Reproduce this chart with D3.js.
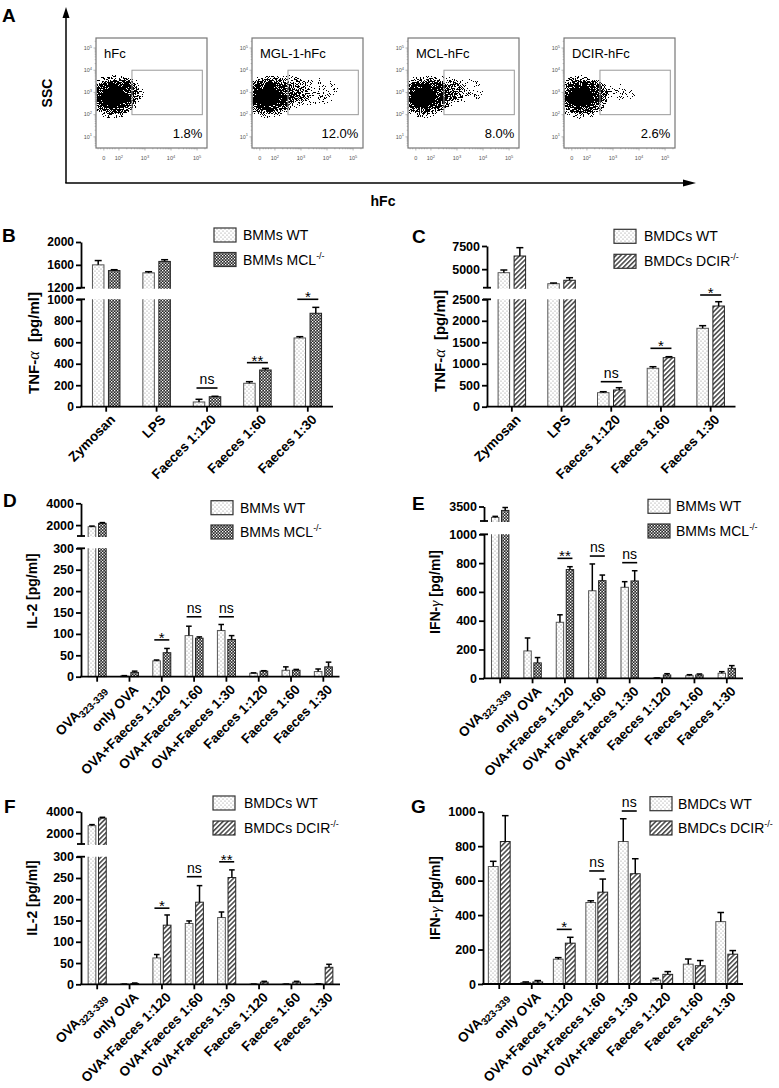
<!DOCTYPE html>
<html><head><meta charset="utf-8">
<script src="https://cdn.jsdelivr.net/npm/d3@7"></script>
<style>
body{margin:0;background:#fff}
svg{display:block}
text{font-family:"Liberation Sans",Arial,sans-serif}
</style>
</head><body>
<svg id="c" width="779" height="1088"></svg>
<script>
// ================= DATA =================
// Panel A (flow cytometry)
const flowTitles = ["hFc", "MGL-1-hFc", "MCL-hFc", "DCIR-hFc"];
const flowPercents = ["1.8%", "12.0%", "8.0%", "2.6%"];
const flowXTickVals = [1.42, 2, 3, 4, 5];
const flowXTickBase = ["0", "10", "10", "10", "10"];
const flowXTickExp = ["", "2", "3", "4", "5"];
const flowYTickVals = [10, 100, 1000, 10000, 100000];
const flowYTickExp = ["1", "2", "3", "4", "5"];
const flowGateX = [2.5, 5.2];
const flowGateY = [100, 10000];
// event clouds: [center x (decades), center log10 y, spread x, spread y]
const flowCores = [[1.78, 2.8, 1.05, 1.0], [1.72, 2.8, 1.05, 0.98], [1.72, 2.8, 1.05, 0.98], [1.78, 2.8, 1.05, 1.0]];
const flowTails = [
  [[2.35, 3.05, 0.65, 0.6]],
  [[2.45, 3.0, 0.9, 0.8]],
  [[2.4, 3.0, 0.85, 0.75]],
  [[2.25, 3.0, 0.6, 0.55]]
];
const flowSparse = [
  [],
  [[3.45, 3.05, 1.0, 0.65]],
  [[3.25, 3.1, 0.85, 0.55]],
  [[3.3, 3.0, 0.6, 0.4]]
];

// Categories
const cats5 = ["Zymosan", "LPS", "Faeces 1:120", "Faeces 1:60", "Faeces 1:30"];
const cats8 = ["OVA323-339", "only OVA", "OVA+Faeces 1:120", "OVA+Faeces 1:60", "OVA+Faeces 1:30", "Faeces 1:120", "Faeces 1:60", "Faeces 1:30"];

// B: TNF-a, BMMs
const bWT = [1600, 1460, 44, 218, 640];
const bWTerr = [75, 20, 25, 15, 12];
const bMCL = [1500, 1660, 93, 342, 870];
const bMCLerr = [15, 30, 4, 15, 55];
const sigB = [[2, 174, "ns"], [3, 410, "**"], [4, 1000, "*"]];

// C: TNF-a, BMDCs
const cWT = [4620, 3430, 326, 894, 1825];
const cWTerr = [290, 75, 23, 37, 61];
const cDCIR = [6420, 3800, 389, 1141, 2344];
const cDCIRerr = [900, 280, 53, 23, 100];
const sigC = [[2, 582, "ns"], [3, 1359, "*"], [4, 2600, "*"]];

// D: IL-2, BMMs
const dWT = [1850, 1.5, 37, 96, 108, 8, 15, 12];
const dWTerr = [60, 1, 2, 22, 14, 1, 8, 6];
const dMCL = [2160, 10, 56, 90, 87, 13, 15, 23];
const dMCLerr = [70, 3, 10, 3, 9, 1, 2, 11];
const sigD = [[2, 86, "*"], [3, 140, "ns"], [4, 140, "ns"]];

// E: IFN-g, BMMs
const eWT = [2750, 190, 389, 608, 632, 2, 18, 35];
const eWTerr = [70, 90, 52, 186, 39, 0, 7, 11];
const eMCL = [3230, 107, 755, 678, 676, 23, 23, 69];
const eMCLerr = [200, 37, 20, 39, 71, 9, 7, 19];
const sigE = [[2, 833, "**"], [3, 849, "ns"], [4, 803, "ns"]];

// F: IL-2, BMDCs
const fWT = [2700, 0.5, 62, 143, 157, 0.5, 0.5, 1];
const fWTerr = [100, 0, 8, 6, 13, 0, 0, 0];
const fDCIR = [3400, 2, 139, 193, 251, 5, 5, 40];
const fDCIRerr = [80, 1, 24, 39, 18, 2, 2, 7];
const sigF = [[2, 179, "*"], [3, 253, "ns"], [4, 288, "**"]];

// G: IFN-g, BMDCs
const gWT = [682, 8, 144, 473, 827, 23, 115, 362];
const gWTerr = [30, 4, 9, 10, 132, 10, 30, 53];
const gDCIR = [827, 12, 237, 533, 640, 56, 106, 173];
const gDCIRerr = [150, 8, 34, 76, 87, 16, 30, 21];
const sigG = [[2, 317, "*"], [3, 656, "ns"], [4, 1004, "ns"]];

// Ticks
const ticksB = [[0, 200, 400, 600, 800, 1000], [1200, 1600, 2000]];
const ticksC = [[0, 500, 1000, 1500, 2000, 2500], [5000, 7500]];
const ticksIL2 = [[0, 50, 100, 150, 200, 250, 300], [2000, 4000]];
const ticksE = [[0, 200, 400, 600, 800, 1000], [3500]];
const ticksG = [[0, 200, 400, 600, 800, 1000]];

// ================= DRAWING =================
const W = 779, H = 1088;
const FONT = '"Liberation Sans", Arial, sans-serif';
const svg = d3.select("#c");
const defs = svg.append("defs");

// patterns
const pDots = defs.append("pattern").attr("id", "pDots").attr("patternUnits", "userSpaceOnUse").attr("width", 4).attr("height", 4);
pDots.append("rect").attr("width", 4).attr("height", 4).attr("fill", "#fff");
pDots.append("circle").attr("cx", 1).attr("cy", 1).attr("r", 0.6).attr("fill", "#8a8a8a");
pDots.append("circle").attr("cx", 3).attr("cy", 3).attr("r", 0.6).attr("fill", "#8a8a8a");

const pCheck = defs.append("pattern").attr("id", "pCheck").attr("patternUnits", "userSpaceOnUse").attr("width", 3).attr("height", 3);
pCheck.append("rect").attr("width", 3).attr("height", 3).attr("fill", "#2a2a2a");
pCheck.append("rect").attr("x", 0).attr("y", 0).attr("width", 1.3).attr("height", 1.3).attr("fill", "#fff");
pCheck.append("rect").attr("x", 1.5).attr("y", 1.5).attr("width", 1.3).attr("height", 1.3).attr("fill", "#fff");

const pHatch = defs.append("pattern").attr("id", "pHatch").attr("patternUnits", "userSpaceOnUse").attr("width", 3.4).attr("height", 3.4).attr("patternTransform", "rotate(45)");
pHatch.append("rect").attr("width", 3.4).attr("height", 3.4).attr("fill", "#fff");
pHatch.append("line").attr("x1", 0.8).attr("y1", 0).attr("x2", 0.8).attr("y2", 3.4).attr("stroke", "#222").attr("stroke-width", 1.3);

// speckle filter for flow cytometry clouds
const f = defs.append("filter").attr("id", "speckle").attr("filterUnits", "userSpaceOnUse")
  .attr("x", 0).attr("y", 0).attr("width", W).attr("height", 200)
  .attr("color-interpolation-filters", "sRGB");
f.append("feTurbulence").attr("type", "fractalNoise").attr("baseFrequency", 0.93).attr("numOctaves", 2).attr("seed", 7).attr("result", "noise");
const stretch = f.append("feComponentTransfer").attr("in", "noise").attr("result", "noiseS");
stretch.append("feFuncR").attr("type", "linear").attr("slope", 3.2).attr("intercept", -1.1);
f.append("feColorMatrix").attr("in", "noiseS").attr("type", "matrix")
  .attr("values", "0 0 0 0 0  0 0 0 0 0  0 0 0 0 0  1 0 0 0 0").attr("result", "na");
f.append("feComposite").attr("in", "SourceGraphic").attr("in2", "na").attr("operator", "arithmetic")
  .attr("k1", 0).attr("k2", 1.5).attr("k3", 1).attr("k4", -1.0).attr("result", "sum");
f.append("feComponentTransfer").attr("in", "sum").append("feFuncA").attr("type", "discrete").attr("tableValues", "0 1");

function radial(id, stops) {
  const g = defs.append("radialGradient").attr("id", id);
  stops.forEach(([o, a]) => g.append("stop").attr("offset", o).attr("stop-color", "#000").attr("stop-opacity", a));
}
radial("gCore", [[0, 1], [0.42, 1], [0.62, 0.86], [0.82, 0.58], [1, 0.37]]);
radial("gTail", [[0, 0.6], [0.55, 0.49], [1, 0.34]]);
radial("gSparse", [[0, 0.43], [1, 0.35]]);

// ---------- Panel A ----------
(function panelA() {
  const g = svg.append("g");
  g.append("text").attr("x", 2).attr("y", 22).attr("font-size", 19).attr("font-weight", "bold").text("A");
  g.append("line").attr("x1", 66).attr("y1", 183).attr("x2", 66).attr("y2", 14).attr("stroke", "#000").attr("stroke-width", 1.5);
  g.append("path").attr("d", "M66,7 L62.5,18 L69.5,18 Z").attr("fill", "#000");
  g.append("line").attr("x1", 65.3).attr("y1", 183).attr("x2", 686).attr("y2", 183).attr("stroke", "#000").attr("stroke-width", 1.5);
  g.append("path").attr("d", "M696,183 L683,179.5 L683,186.5 Z").attr("fill", "#000");
  g.append("text").attr("transform", "translate(52,93) rotate(-90)").attr("text-anchor", "middle")
    .attr("font-size", 14).attr("font-weight", "bold").text("SSC");
  g.append("text").attr("x", 383).attr("y", 206).attr("text-anchor", "middle")
    .attr("font-size", 14).attr("font-weight", "bold").text("hFc");

  const boxLefts = [96, 252, 408, 564], top = 38, bw = 111, bh = 110;
  flowTitles.forEach((title, k) => {
    const L = boxLefts[k];
    const x = d3.scaleLinear().domain([1.12, 5.38]).range([L, L + bw]);
    const y = d3.scaleLog().domain([Math.pow(10, 0.5), Math.pow(10, 5.45)]).range([top + bh, top]);
    const cid = "fclip" + k;
    defs.append("clipPath").attr("id", cid).append("rect").attr("x", L + 0.6).attr("y", top + 0.6).attr("width", bw - 1.2).attr("height", bh - 1.2);
    const pg = g.append("g").attr("clip-path", `url(#${cid})`);
    const cg = pg.append("g").attr("filter", "url(#speckle)");
    const pxX = x(3) - x(2), pxY = y(100) - y(1000);
    const ell = (t, grad) => cg.append("ellipse").attr("cx", x(t[0])).attr("cy", y(Math.pow(10, t[1])))
      .attr("rx", t[2] * pxX).attr("ry", t[3] * pxY).attr("fill", `url(#${grad})`);
    flowSparse[k].forEach(t => ell(t, "gSparse"));
    flowTails[k].forEach(t => ell(t, "gTail"));
    ell(flowCores[k], "gCore");
    // gate
    g.append("rect").attr("x", x(flowGateX[0])).attr("y", y(flowGateY[1]))
      .attr("width", x(flowGateX[1]) - x(flowGateX[0])).attr("height", y(flowGateY[0]) - y(flowGateY[1]))
      .attr("fill", "none").attr("stroke", "#9a9a9a").attr("stroke-width", 1);
    // box
    g.append("rect").attr("x", L).attr("y", top).attr("width", bw).attr("height", bh)
      .attr("fill", "none").attr("stroke", "#777").attr("stroke-width", 1.2);
    // ticks
    const tg = g.append("g").attr("stroke", "#888").attr("stroke-width", 0.6);
    flowYTickVals.forEach(v => tg.append("line").attr("x1", L - 2.5).attr("x2", L).attr("y1", y(v)).attr("y2", y(v)));
    for (let e = 0; e <= 5; e++) for (let m = 2; m <= 9; m++) {
      const v = m * Math.pow(10, e);
      if (v > y.domain()[0] && v < y.domain()[1]) tg.append("line").attr("x1", L - 1.3).attr("x2", L).attr("y1", y(v)).attr("y2", y(v));
    }
    flowXTickVals.forEach(v => tg.append("line").attr("x1", x(v)).attr("x2", x(v)).attr("y1", top + bh).attr("y2", top + bh + 2.5));
    for (let e = 2; e <= 5; e++) for (let m = 2; m <= 9; m++) {
      const v = e + Math.log10(m);
      if (v < 5.38) tg.append("line").attr("x1", x(v)).attr("x2", x(v)).attr("y1", top + bh).attr("y2", top + bh + 1.3);
    }
    [1.2, 1.3, 1.55, 1.65, 1.75, 1.85].forEach(v => tg.append("line").attr("x1", x(v)).attr("x2", x(v)).attr("y1", top + bh).attr("y2", top + bh + 1.3));
    // tick labels
    flowYTickVals.forEach((v, i) => {
      const t = g.append("text").attr("x", L - 4).attr("y", y(v) + 1.8).attr("text-anchor", "end")
        .attr("font-size", 5.5).attr("fill", "#555");
      t.append("tspan").text("10");
      t.append("tspan").attr("dy", -2.2).attr("font-size", 4).text(flowYTickExp[i]);
    });
    flowXTickVals.forEach((v, i) => {
      const t = g.append("text").attr("x", x(v)).attr("y", top + bh + 12).attr("text-anchor", "middle")
        .attr("font-size", 5.5).attr("fill", "#555");
      t.append("tspan").text(flowXTickBase[i]);
      if (flowXTickExp[i]) t.append("tspan").attr("dy", -2.2).attr("font-size", 4).text(flowXTickExp[i]);
    });
    g.append("text").attr("x", L + 8).attr("y", top + 20).attr("font-size", 13).text(title);
    g.append("text").attr("x", x(flowGateX[1])).attr("y", top + 100).attr("text-anchor", "end").attr("font-size", 13).text(flowPercents[k]);
  });
})();

// ---------- Bar panels ----------
function drawBarPanel(p) {
  const g = svg.append("g");
  const x = d3.scaleBand().domain(p.cats).range([p.x0, p.x1]);
  const cx = i => x(p.cats[i]) + x.bandwidth() / 2;
  const segs = p.segs.map((s, k) => {
    const sc = d3.scaleLinear().domain(s.domain).range(s.range);
    const id = `clip_${p.id}_${k}`;
    defs.append("clipPath").attr("id", id).append("rect")
      .attr("x", p.x0).attr("y", s.range[1]).attr("width", p.x1 - p.x0)
      .attr("height", s.range[0] - s.range[1] + 1);
    return Object.assign({}, s, { sc, id, ticks: p.ticks[k] });
  });
  const lower = segs[0];
  // bars
  p.series.forEach((ser, si) => {
    const off = (si === 0 ? -1 : 1) * p.off;
    ser.mean.forEach((v, i) => {
      const c = cx(i) + off;
      segs.forEach((s, k) => {
        const [d0, d1] = s.domain;
        if (k > 0 && v <= d0) return;
        const topY = v > d1 ? s.range[1] - 3 : s.sc(v);
        const botY = k === 0 ? s.range[0] : s.range[0] + 3;
        g.append("rect").attr("clip-path", `url(#${s.id})`)
          .attr("x", c - p.barW / 2).attr("y", topY).attr("width", p.barW)
          .attr("height", Math.max(0, botY - topY))
          .attr("fill", `url(#${ser.pat})`).attr("stroke", ser.stroke).attr("stroke-width", 1);
      });
      const s = segs.find((s, k) => v <= s.domain[1] || k === segs.length - 1);
      const e = ser.err[i];
      const y1 = s.sc(v), y2 = s.sc(v + e);
      g.append("line").attr("x1", c).attr("x2", c).attr("y1", y1).attr("y2", y2).attr("stroke", "#000").attr("stroke-width", 1.5);
      g.append("line").attr("x1", c - p.cap).attr("x2", c + p.cap).attr("y1", y2).attr("y2", y2).attr("stroke", "#000").attr("stroke-width", 1.5);
    });
  });
  // y axes
  segs.forEach((s, k) => {
    const ax = g.append("g").attr("transform", `translate(${p.x0},0)`)
      .call(d3.axisLeft(s.sc).tickValues(s.ticks).tickSize(5).tickSizeOuter(0).tickPadding(2).tickFormat(d3.format("d")));
    ax.attr("font-family", FONT).attr("font-size", p.tickFs || 12.5).attr("font-weight", "bold");
    ax.selectAll("path,line").attr("stroke", "#000").attr("stroke-width", 1.8);
    ax.selectAll("text").attr("fill", "#000");
    if (segs.length > 1) {
      const yb = k === 0 ? s.range[1] : s.range[0];
      g.append("line").attr("x1", p.x0 - 4).attr("x2", p.x0 + 4).attr("y1", yb).attr("y2", yb).attr("stroke", "#000").attr("stroke-width", 1.8);
    }
  });
  // x axis
  const yA = lower.range[0];
  g.append("line").attr("x1", p.x0 - 0.9).attr("x2", p.x1).attr("y1", yA).attr("y2", yA).attr("stroke", "#000").attr("stroke-width", 1.8);
  p.cats.forEach((c, i) => {
    g.append("line").attr("x1", cx(i)).attr("x2", cx(i)).attr("y1", yA).attr("y2", yA + 5).attr("stroke", "#000").attr("stroke-width", 1.8);
    const t = g.append("text").attr("transform", `translate(${cx(i) + 3},${yA + 7}) rotate(-45)`)
      .attr("text-anchor", "end").attr("dy", "0.71em").attr("font-size", 13.5).attr("font-weight", "bold").attr("fill", "#000");
    if (c === "OVA323-339") {
      t.append("tspan").text("OVA");
      t.append("tspan").attr("font-size", 10).attr("dy", 3).attr("fill", "#000").text("323-339");
    } else t.text(c);
  });
  // y title
  const yt = g.append("text").attr("transform", `translate(${p.tx},${p.ty}) rotate(-90)`)
    .attr("text-anchor", "middle").attr("font-size", p.tfs || 14).attr("font-weight", "bold");
  yt.append("tspan").text(p.title[0]);
  if (p.title[1]) yt.append("tspan").attr("font-family", '"Liberation Serif", serif').attr("font-style", "italic")
    .attr("font-weight", "normal").attr("font-size", (p.tfs || 14) + 1.5).text(p.title[1]);
  if (p.title[2]) yt.append("tspan").attr("dx", p.tgap || 0).text(p.title[2]);
  // panel letter
  g.append("text").attr("x", p.lx).attr("y", p.ly).attr("font-size", 19).attr("font-weight", "bold").text(p.id);
  // legend
  p.series.forEach((ser, si) => {
    const ly = p.legY[si];
    g.append("rect").attr("x", p.legX).attr("y", ly).attr("width", 22).attr("height", 14)
      .attr("fill", `url(#${ser.pat})`).attr("stroke", "#333").attr("stroke-width", 1.2);
    const t = g.append("text").attr("x", p.legTX).attr("y", ly + 12).attr("font-size", 14);
    t.append("tspan").text(ser.name[0]);
    if (ser.name[1]) t.append("tspan").attr("font-size", 9).attr("dy", -6).text(ser.name[1]);
  });
  // significance
  p.sig.forEach(([i, lvl, lab]) => {
    const ly = lower.sc(lvl);
    const c = cx(i);
    g.append("line").attr("x1", c - p.sigHW).attr("x2", c + p.sigHW).attr("y1", ly).attr("y2", ly).attr("stroke", "#000").attr("stroke-width", 1.6);
    g.append("text").attr("x", c).attr("y", lab === "ns" ? ly - 4 : ly + 3).attr("text-anchor", "middle")
      .attr("font-size", lab === "ns" ? 14 : 15).text(lab);
  });
}

const nWT_M = ["BMMs WT", ""], nMCL = ["BMMs MCL", "-/-"];
const nWT_D = ["BMDCs WT", ""], nDCIR = ["BMDCs DCIR", "-/-"];
const tTNF = ["TNF-", "α", "[pg/ml]"], tIL2 = ["IL-2 [pg/ml]", "", ""], tIFN = ["IFN-", "γ", " [pg/ml]"];

drawBarPanel({ id: "B", cats: cats5, x0: 81, x1: 333,
  segs: [{ domain: [0, 1000], range: [406.7, 299.3] }, { domain: [1200, 2000], range: [287.7, 242] }], ticks: ticksB,
  series: [{ mean: bWT, err: bWTerr, pat: "pDots", stroke: "#555", name: nWT_M }, { mean: bMCL, err: bMCLerr, pat: "pCheck", stroke: "#222", name: nMCL }],
  barW: 11.5, off: 8, cap: 3.5, sig: sigB, sigHW: 10.5, title: tTNF, tx: 39, ty: 343, tfs: 15, tgap: 9, tickFs: 12,
  lx: 2, ly: 242, legX: 214, legY: [228, 252.5], legTX: 243 });

drawBarPanel({ id: "C", cats: cats5, x0: 487, x1: 735.5,
  segs: [{ domain: [0, 2500], range: [406.7, 299.3] }, { domain: [3000, 7500], range: [287.7, 246] }], ticks: ticksC,
  series: [{ mean: cWT, err: cWTerr, pat: "pDots", stroke: "#555", name: nWT_D }, { mean: cDCIR, err: cDCIRerr, pat: "pHatch", stroke: "#222", name: nDCIR }],
  barW: 11.5, off: 8, cap: 3.5, sig: sigC, sigHW: 10.5, title: tTNF, tx: 445, ty: 341, tfs: 15, tgap: 9,
  lx: 412, ly: 243, legX: 614, legY: [229.3, 254.3], legTX: 644 });

drawBarPanel({ id: "D", cats: cats8, x0: 81, x1: 339.5,
  segs: [{ domain: [0, 300], range: [676.7, 548.3] }, { domain: [1000, 4000], range: [536, 503.3] }], ticks: ticksIL2,
  series: [{ mean: dWT, err: dWTerr, pat: "pDots", stroke: "#555", name: nWT_M }, { mean: dMCL, err: dMCLerr, pat: "pCheck", stroke: "#222", name: nMCL }],
  barW: 7.6, off: 5.2, cap: 2.8, sig: sigD, sigHW: 7.5, title: tIL2, tx: 37, ty: 591,
  lx: 3, ly: 507, legX: 211, legY: [500.7, 525], legTX: 240 });

drawBarPanel({ id: "E", cats: cats8, x0: 484, x1: 743,
  segs: [{ domain: [0, 1000], range: [678.3, 534.3] }, { domain: [2500, 3500], range: [521, 506.5] }], ticks: ticksE,
  series: [{ mean: eWT, err: eWTerr, pat: "pDots", stroke: "#555", name: nWT_M }, { mean: eMCL, err: eMCLerr, pat: "pCheck", stroke: "#222", name: nMCL }],
  barW: 7.4, off: 5, cap: 2.8, sig: sigE, sigHW: 7.5, title: tIFN, tx: 440, ty: 592,
  lx: 412, ly: 510, legX: 648, legY: [499.3, 524], legTX: 676 });

drawBarPanel({ id: "F", cats: cats8, x0: 81, x1: 340,
  segs: [{ domain: [0, 300], range: [984.3, 856.7] }, { domain: [1000, 4000], range: [844, 811.7] }], ticks: ticksIL2,
  series: [{ mean: fWT, err: fWTerr, pat: "pDots", stroke: "#555", name: nWT_D }, { mean: fDCIR, err: fDCIRerr, pat: "pHatch", stroke: "#222", name: nDCIR }],
  barW: 7.7, off: 5.2, cap: 2.8, sig: sigF, sigHW: 7.5, title: tIL2, tx: 37, ty: 898,
  lx: 4, ly: 813, legX: 213, legY: [796, 821], legTX: 244 });

drawBarPanel({ id: "G", cats: cats8, x0: 483, x1: 743,
  segs: [{ domain: [0, 1000], range: [984, 811.7] }], ticks: ticksG,
  series: [{ mean: gWT, err: gWTerr, pat: "pDots", stroke: "#555", name: nWT_D }, { mean: gDCIR, err: gDCIRerr, pat: "pHatch", stroke: "#222", name: nDCIR }],
  barW: 9.8, off: 6, cap: 3.3, sig: sigG, sigHW: 7.5, title: tIFN, tx: 440, ty: 898,
  lx: 411, ly: 813, legX: 650, legY: [796.7, 821], legTX: 678 });
</script>
</body></html>
